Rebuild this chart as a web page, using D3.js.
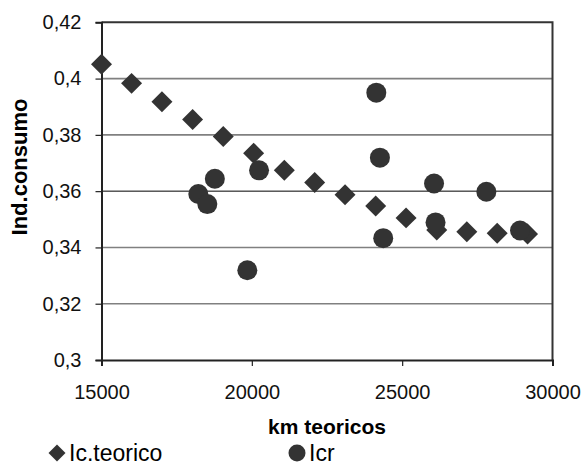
<!DOCTYPE html>
<html>
<head>
<meta charset="utf-8">
<script src="https://cdn.jsdelivr.net/npm/d3@7"></script>
<style>
  body { margin: 0; background: #fff; }
  svg text { font-family: "Liberation Sans", Arial, sans-serif; }
</style>
</head>
<body>
<script>
// Ic.teorico series (diamonds)
var teoKm = [15000, 16000, 17010, 18030, 19050, 20060, 21080, 22090, 23100, 24120, 25130, 26150, 27150, 28160, 29170];
var teoIc = [0.4051, 0.3983, 0.3918, 0.3855, 0.3794, 0.3735, 0.3674, 0.3631, 0.3587, 0.3547, 0.3505, 0.3462, 0.3456, 0.3450, 0.3448];
// Icr series (circles)
var icrKm = [18220, 18520, 18770, 19850, 20240, 24140, 24260, 24370, 26060, 26110, 27800, 28920];
var icrVal = [0.3590, 0.3554, 0.3644, 0.3319, 0.3674, 0.3950, 0.3719, 0.3433, 0.3627, 0.3489, 0.3598, 0.3460];
// axis ticks
var xTicks = [15000, 20000, 25000, 30000];
var yTicks = [0.3, 0.32, 0.34, 0.36, 0.38, 0.4, 0.42];

var width = 584, height = 465;
var svg = d3.select("body").append("svg")
  .attr("width", width)
  .attr("height", height);

var x = d3.scaleLinear().domain([15000, 30000]).range([101.5, 552.5]);
var y = d3.scaleLinear().domain([0.3, 0.42]).range([360, 22.3]);

// gridlines (the 0,36 one is black in the original)
svg.append("g").selectAll("line")
  .data(yTicks.filter(function(d) { return d > 0.3 && d < 0.42; }))
  .enter().append("line")
  .attr("x1", x(15000)).attr("x2", x(30000))
  .attr("y1", function(d) { return y(d); })
  .attr("y2", function(d) { return y(d); })
  .attr("stroke", function(d) { return Math.abs(d - 0.36) < 1e-9 ? "#000" : "#808080"; })
  .attr("stroke-width", function(d) { return Math.abs(d - 0.36) < 1e-9 ? 1 : 1.6; });

// plot border top / right
svg.append("path")
  .attr("d", "M" + x(15000) + "," + y(0.42) + "H" + x(30000) + "V" + y(0.3))
  .attr("fill", "none")
  .attr("stroke", "#333")
  .attr("stroke-width", 2);

var fmt = function(d) { return String(+d.toFixed(2)).replace(".", ","); };

var yAxis = d3.axisLeft(y).tickValues(yTicks).tickFormat(fmt).tickSize(6).tickPadding(14);
var xAxis = d3.axisBottom(x).tickValues(xTicks).tickFormat(d3.format("d")).tickSize(6).tickPadding(19);

var gy = svg.append("g").attr("transform", "translate(" + x(15000) + ",0)").call(yAxis);
var gx = svg.append("g").attr("transform", "translate(0," + y(0.3) + ")").call(xAxis);

[gx, gy].forEach(function(g) {
  g.attr("font-family", null);
  g.select(".domain").attr("stroke", "#222").attr("stroke-width", 2);
  g.selectAll(".tick line").attr("stroke", "#222").attr("stroke-width", 1.2);
  g.selectAll(".tick text")
    .attr("font-size", 20)
    .attr("fill", "#111");
});

// diamonds (rotated squares)
var diamond = d3.symbol().type(d3.symbolSquare).size(220);
svg.append("g").selectAll("path")
  .data(teoKm)
  .enter().append("path")
  .attr("d", diamond)
  .attr("transform", function(d, i) { return "translate(" + x(d) + "," + y(teoIc[i]) + ") rotate(45)"; })
  .attr("fill", "#333");

// circles
svg.append("g").selectAll("circle")
  .data(icrKm)
  .enter().append("circle")
  .attr("cx", function(d) { return x(d); })
  .attr("cy", function(d, i) { return y(icrVal[i]); })
  .attr("r", 10)
  .attr("fill", "#333");

// axis titles
svg.append("text")
  .attr("x", 327).attr("y", 434)
  .attr("text-anchor", "middle")
  .attr("font-weight", "bold")
  .attr("font-size", 21)
  .text("km teoricos");

svg.append("text")
  .attr("transform", "translate(27,167) rotate(-90)")
  .attr("text-anchor", "middle")
  .attr("font-weight", "bold")
  .attr("font-size", 22)
  .text("Ind.consumo");

// legend
var legend = svg.append("g");
legend.append("path")
  .attr("d", d3.symbol().type(d3.symbolSquare).size(144))
  .attr("transform", "translate(57,453) rotate(45)")
  .attr("fill", "#333");
legend.append("text")
  .attr("x", 69).attr("y", 461)
  .attr("font-size", 23)
  .text("Ic.teorico");
legend.append("circle")
  .attr("cx", 297).attr("cy", 453).attr("r", 8.5)
  .attr("fill", "#333");
legend.append("text")
  .attr("x", 309).attr("y", 461)
  .attr("font-size", 23)
  .text("Icr");
</script>
</body>
</html>
